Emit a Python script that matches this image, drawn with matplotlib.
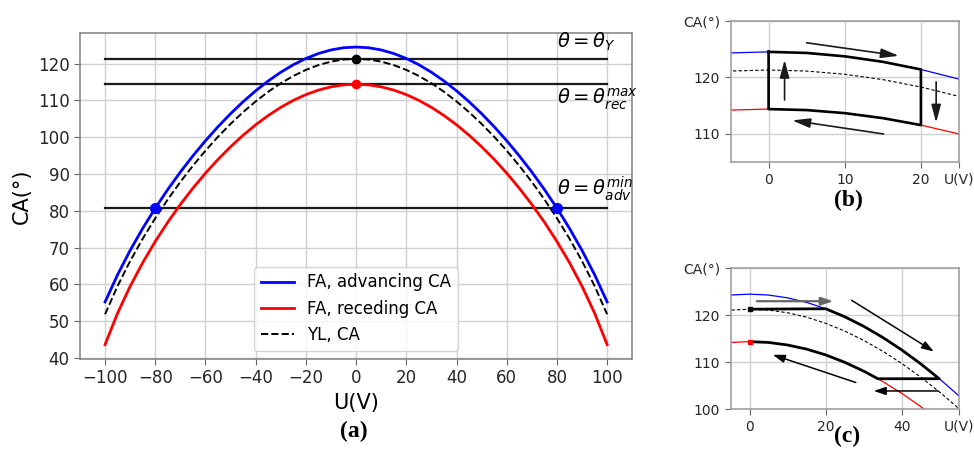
import numpy as np
import matplotlib
matplotlib.use('Agg')
import matplotlib.pyplot as plt

# voltage (V), every 5 V
u = np.array([-100, -95, -90, -85, -80, -75, -70, -65, -60, -55, -50, -45, -40, -35, -30,
              -25, -20, -15, -10, -5, 0, 5, 10, 15, 20, 25, 30, 35, 40, 45, 50, 55, 60,
              65, 70, 75, 80, 85, 90, 95, 100])

# FA, advancing CA
ca_adv = np.array([55.21, 62.63, 69.23, 75.22, 80.72, 85.80, 90.53, 94.93, 99.04, 102.85,
                   106.39, 109.64, 112.61, 115.28, 117.65, 119.69, 121.39, 122.74, 123.71,
                   124.31, 124.50, 124.31, 123.71, 122.74, 121.39, 119.69, 117.65, 115.28,
                   112.61, 109.64, 106.39, 102.85, 99.04, 94.93, 90.53, 85.80, 80.72, 75.22,
                   69.23, 62.63, 55.21])
# FA, receding CA
ca_rec = np.array([43.62, 52.19, 59.48, 65.89, 71.66, 76.91, 81.72, 86.14, 90.22, 93.97,
                   97.40, 100.54, 103.37, 105.89, 108.11, 110.00, 111.57, 112.80, 113.68,
                   114.22, 114.40, 114.22, 113.68, 112.80, 111.57, 110.00, 108.11, 105.89,
                   103.37, 100.54, 97.40, 93.97, 90.22, 86.14, 81.72, 76.91, 71.66, 65.89,
                   59.48, 52.19, 43.62])
# Young-Lippmann CA
ca_yl = np.array([51.87, 59.56, 66.33, 72.42, 77.98, 83.10, 87.85, 92.24, 96.33, 100.12,
                  103.61, 106.81, 109.73, 112.35, 114.66, 116.64, 118.29, 119.60, 120.54,
                  121.11, 121.30, 121.11, 120.54, 119.60, 118.29, 116.64, 114.66, 112.35,
                  109.73, 106.81, 103.61, 100.12, 96.33, 92.24, 87.85, 83.10, 77.98, 72.42,
                  66.33, 59.56, 51.87])

theta_y = 121.3
theta_rec_max = 114.4
theta_adv_min = 80.7
u_adv_min = [-80, 80]

# panel (b): switching between 0 V and 20 V
u_b = [0, 20]
# panel (c): jump from advancing to receding branch
u_c_jump = [49.8, 33.7]
ca_c_jump = 106.5

plt.rcParams['font.family'] = ['DejaVu Sans']

fig = plt.figure(figsize=(9.74, 4.53), dpi=100)

def style_axes(ax, spine='0.5'):
    for s in ax.spines.values():
        s.set_color(spine)
        s.set_linewidth(1.1)
    ax.grid(True, color='0.82', lw=1)
    ax.set_axisbelow(True)
    ax.tick_params(colors='0.15', direction='out', length=4)
    ax.tick_params(axis='both', color='0.4')

# ---------- (a) ----------
ax = fig.add_axes([0.0821, 0.2075, 0.567, 0.7195])
style_axes(ax)
ax.plot(u, ca_adv, color='blue', lw=2, label='FA, advancing CA', zorder=3)
ax.plot(u, ca_rec, color='red', lw=2, label='FA, receding CA', zorder=3)
ax.plot(u, ca_yl, color='black', lw=1.4, ls='--', label='YL, CA', zorder=3)
for lev in [theta_y, theta_rec_max, theta_adv_min]:
    ax.plot([u.min(), u.max()], [lev, lev], color='0.1', lw=1.6, zorder=2)
ax.plot(u_adv_min, [theta_adv_min] * 2, 'o', color='blue', ms=7, zorder=4)
ax.plot([0], [theta_y], 'o', color='black', ms=6, zorder=4)
ax.plot([0], [theta_rec_max], 'o', color='red', ms=6, zorder=4)
ax.text(80, 125.9, r'$\theta = \theta_Y$', fontsize=14, ha='left', va='center')
ax.text(80, 110.3, r'$\theta = \theta_{rec}^{max}$', fontsize=14, ha='left', va='center')
ax.text(80, 85.9, r'$\theta = \theta_{adv}^{min}$', fontsize=14, ha='left', va='center')
ax.set_xlim(-110, 110)
ax.set_ylim(39.7, 128.3)
ax.set_xticks(range(-100, 101, 20))
ax.set_yticks(range(40, 121, 10))
ax.tick_params(labelsize=12)
ax.set_xlabel('U(V)', fontsize=15)
ax.set_ylabel('CA(°)', fontsize=15)
ax.legend(loc='lower center', fontsize=12)

# ---------- (b) ----------
axb = fig.add_axes([0.750, 0.6417, 0.2346, 0.3126])
style_axes(axb, spine='0.6')
axb.plot(u, ca_adv, color='blue', lw=0.9)
axb.plot(u, ca_rec, color='red', lw=0.9)
axb.plot(u, ca_yl, color='black', lw=0.8, ls=(0, (3, 2)))
m = (u >= u_b[0]) & (u <= u_b[1])
loop_u = np.concatenate([u[m], u[m][::-1], u[m][:1]])
loop_ca = np.concatenate([ca_adv[m], ca_rec[m][::-1], ca_adv[m][:1]])
axb.plot(loop_u, loop_ca, color='black', lw=1.9)
arr_b = dict(arrowstyle='-|>,head_length=0.6,head_width=0.16', color='0.1', lw=1.2,
             mutation_scale=18, shrinkA=0, shrinkB=0)
axb.annotate('', xy=(17.1, 123.8), xytext=(5.0, 126.1), arrowprops=arr_b)
axb.annotate('', xy=(2.1, 123.1), xytext=(2.1, 116.0), arrowprops=arr_b)
axb.annotate('', xy=(22.0, 112.0), xytext=(22.0, 119.2), arrowprops=arr_b)
axb.annotate('', xy=(3.1, 112.4), xytext=(15.1, 110.0), arrowprops=arr_b)
axb.set_xlim(-5, 25)
axb.set_ylim(105, 130)
axb.set_xticks([0, 10, 20, 25])
axb.set_xticklabels(['0', '10', '20', 'U(V)'])
axb.set_yticks([110, 120, 130])
axb.set_yticklabels(['110', '120', 'CA(°)'])
axb.tick_params(labelsize=10)

# ---------- (c) ----------
axc = fig.add_axes([0.750, 0.0965, 0.2346, 0.3112])
style_axes(axc, spine='0.6')
axc.plot(u, ca_adv, color='blue', lw=0.9)
axc.plot(u, ca_rec, color='red', lw=0.9)
axc.plot(u, ca_yl, color='black', lw=0.8, ls=(0, (3, 2)))
ma = (u >= 20) & (u < u_c_jump[0])
mr = (u >= 0) & (u < u_c_jump[1])
path_u = np.concatenate([[0], u[ma], u_c_jump, u[mr][::-1]])
path_ca = np.concatenate([[theta_y], ca_adv[ma], [ca_c_jump] * 2, ca_rec[mr][::-1]])
axc.plot(path_u, path_ca, color='black', lw=2)
axc.plot([0], [theta_y], 's', color='black', ms=3)
axc.plot([0], [theta_rec_max], 's', color='red', ms=3)
arr_c = dict(arrowstyle='-|>,head_length=0.6,head_width=0.2', color='black', lw=1.1,
             mutation_scale=12, shrinkA=0, shrinkB=0)
arr_c0 = dict(arr_c, color='0.4', lw=1.6)
axc.annotate('', xy=(22.0, 123.0), xytext=(1.9, 123.0), arrowprops=arr_c0)
axc.annotate('', xy=(48.4, 112.3), xytext=(26.8, 123.2), arrowprops=arr_c)
axc.annotate('', xy=(32.6, 103.9), xytext=(49.5, 103.9), arrowprops=arr_c)
axc.annotate('', xy=(6.1, 111.6), xytext=(27.9, 105.7), arrowprops=arr_c)
axc.set_xlim(-5, 55)
axc.set_ylim(100, 130)
axc.set_xticks([0, 20, 40, 55])
axc.set_xticklabels(['0', '20', '40', 'U(V)'])
axc.set_yticks([100, 110, 120, 130])
axc.set_yticklabels(['100', '110', '120', 'CA(°)'])
axc.tick_params(labelsize=10)

# panel labels
lab = dict(fontsize=17, fontweight='bold', family='Liberation Serif', ha='center', va='top')
fig.text(0.3634, 0.0706, '(a)', **lab)
fig.text(0.8706, 0.5817, '(b)', **lab)
fig.text(0.870, 0.0596, '(c)', **lab)

plt.savefig('out.png', dpi=100)
